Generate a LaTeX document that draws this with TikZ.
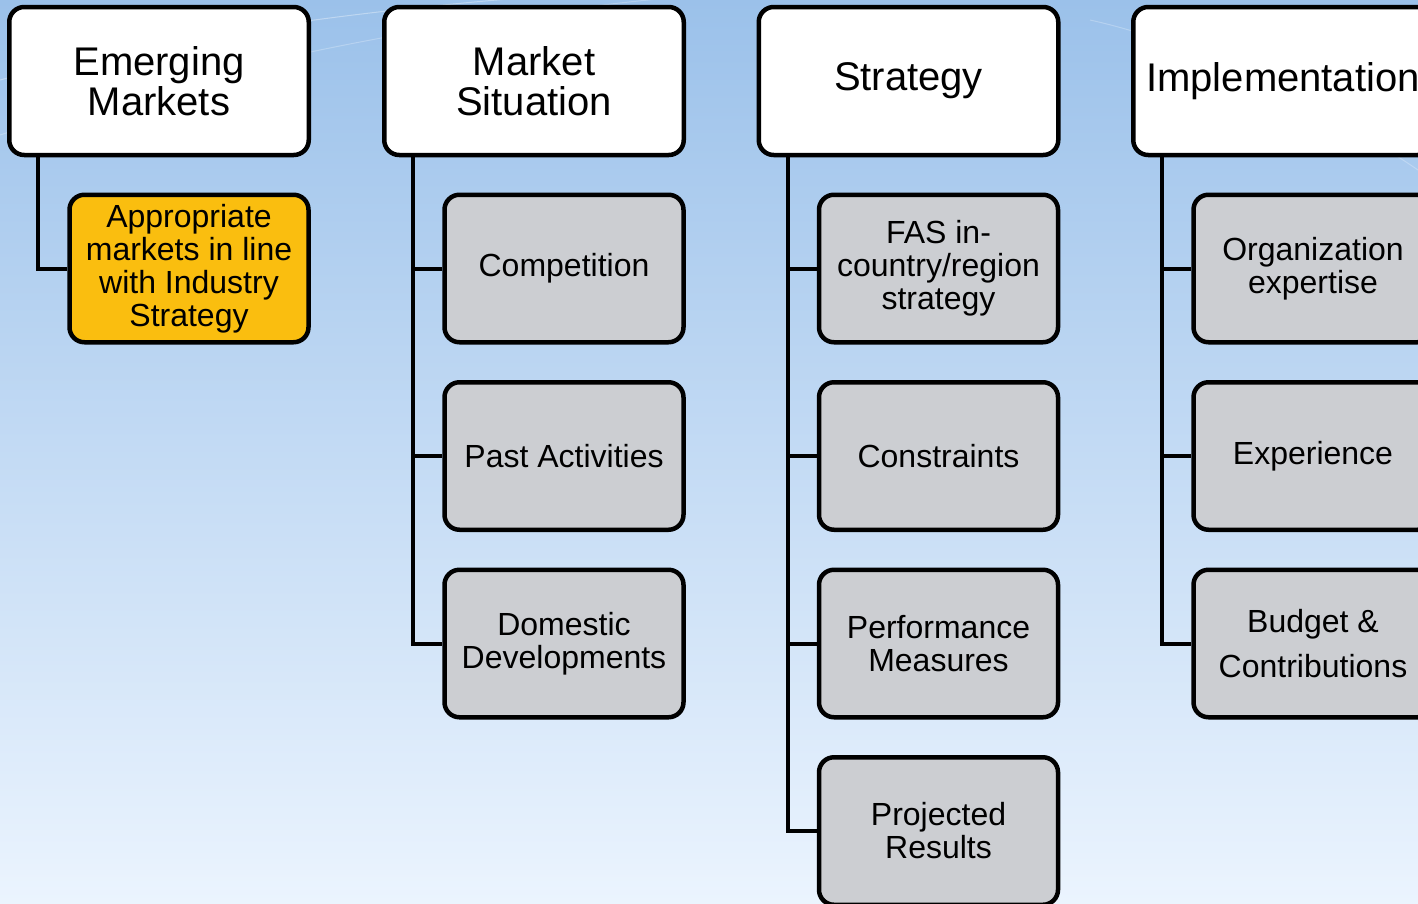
\documentclass[tikz,border=0pt]{standalone}
\usepackage{fontspec}
\setmainfont{Liberation Sans}
\usetikzlibrary{positioning}
\definecolor{boxgray}{RGB}{204,206,210}
\definecolor{boxgold}{RGB}{250,190,15}
\definecolor{skytop}{RGB}{155,193,234}
\definecolor{skymid}{RGB}{196,225,255}
\definecolor{skybot}{RGB}{235,244,254}

\begin{document}
\begin{tikzpicture}[x=1pt,y=-1pt,node distance=187.5pt,
  head node/.style={rectangle,rounded corners=15pt,draw,line width=4.5pt,fill=white,
    minimum width=299.5pt,minimum height=148pt,align=center,font=\fontsize{40}{40}\selectfont},
  sub node/.style={rectangle,rounded corners=15pt,draw,line width=4.5pt,fill=boxgray,
    minimum width=239pt,minimum height=147.5pt,align=center,font=\fontsize{32}{33}\selectfont},
  link/.style={line width=4pt}]

 \useasboundingbox (0,0) rectangle (1418,903);
 \clip (0,0) rectangle (1418,903);
 \shade[top color=skytop,middle color=skymid,bottom color=skybot] (0,0) rectangle (1418,903);
 % faint swooshes
 \draw[white,opacity=0.35,line width=1pt] (0,80) .. controls (150,40) and (350,10) .. (560,-5);
 \draw[white,opacity=0.25,line width=1pt] (0,135) .. controls (200,70) and (420,20) .. (700,-5);
 \draw[white,opacity=0.25,line width=1pt] (1090,20) .. controls (1180,40) and (1300,90) .. (1418,170);

 \node[head node] (em) at (159,81) {Emerging\\Markets};
 \node[head node] (ms) [right of=em,node distance=375pt] {Market\\Situation};
 \node[head node] (st) [right of=ms,node distance=374.5pt] {Strategy};
 \node[head node] (im) [right of=st,node distance=374.5pt] {Implementation};

 \node[sub node,fill=boxgold] (appr) [below of=em,xshift=30pt] {Appropriate\\markets in line\\with Industry\\Strategy};

 \node[sub node] (comp) [below of=ms,xshift=30pt] {Competition};
 \node[sub node] (past) [below of=comp] {Past Activities};
 \node[sub node] (dom) [below of=past] {Domestic\\Developments};

 \node[sub node] (fas) [below of=st,xshift=30pt] {FAS in-\\country/region\\strategy};
 \node[sub node] (cons) [below of=fas] {Constraints};
 \node[sub node] (perf) [below of=cons] {Performance\\Measures};
 \node[sub node] (proj) [below of=perf] {Projected\\Results};

 \node[sub node] (org) [below of=im,xshift=30pt] {Organization\\expertise};
 \node[sub node] (exp) [below of=org] {Experience};
 \node[sub node] (bud) [below of=exp] {Budget \&\\[12pt]Contributions};

 \foreach \h/\c in {em/appr,ms/comp,ms/past,ms/dom,st/fas,st/cons,st/perf,st/proj,im/org,im/exp,im/bud}
   \draw[link] ([xshift=31pt]\h.south west) |- (\c.west);

\end{tikzpicture}
\end{document}
